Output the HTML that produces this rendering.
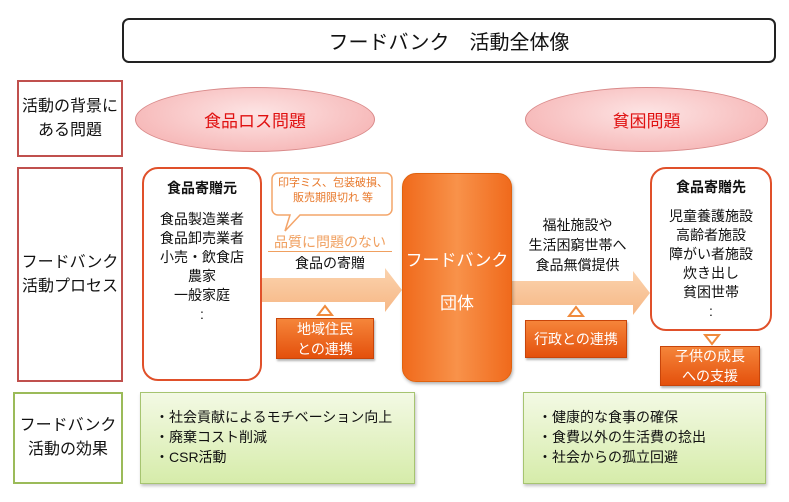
<!DOCTYPE html>
<html><head><meta charset="utf-8"><style>
body{margin:0;width:789px;height:502px;background:#fff;position:relative;overflow:hidden;font-family:"Liberation Sans","Noto Sans CJK JP",sans-serif;color:#111}
.a{position:absolute;box-sizing:border-box}
.c{display:flex;align-items:center;justify-content:center;text-align:center}
.lab{border:2px solid #c0504d;font-size:16px;line-height:24px;background:#fff}
.ell{border-radius:50%;background:radial-gradient(ellipse at 50% 40%,#fde4e4,#f6b6b6 80%,#f0a0a0);border:1px solid #d98a8a;color:#e01010;font-size:17px}
.ob{background:linear-gradient(#f5853a,#e4500c);color:#fff;font-size:14px;line-height:20px;border:1px solid #c8450a;box-shadow:1px 2px 2px rgba(0,0,0,.3)}
.gb{background:linear-gradient(#f3f9e4,#d6ecaa);border:1px solid #a6c470;box-shadow:1px 2px 3px rgba(0,0,0,.25);font-size:14px;line-height:20px;padding:14px 0 0 14px}
</style></head><body>
<div class="a c" style="left:122px;top:18px;width:654px;height:45px;border:2px solid #222;border-radius:7px;font-size:20px">フードバンク　活動全体像</div>

<div class="a c lab" style="left:17px;top:80px;width:106px;height:77px">活動の背景に<br>ある問題</div>
<div class="a c lab" style="left:17px;top:167px;width:106px;height:215px">フードバンク<br>活動プロセス</div>
<div class="a c lab" style="left:13px;top:392px;width:110px;height:92px;border-color:#9bbb59">フードバンク<br>活動の効果</div>

<div class="a c ell" style="left:135px;top:87px;width:240px;height:65px">食品ロス問題</div>
<div class="a c ell" style="left:525px;top:87px;width:243px;height:65px">貧困問題</div>

<!-- arrows -->
<svg class="a" style="left:0;top:0" width="789" height="502">
<defs><linearGradient id="ag" x1="0" y1="0" x2="0" y2="1"><stop offset="0" stop-color="#fbd3ae"/><stop offset="1" stop-color="#f6b785"/></linearGradient></defs>
<polygon points="262,278 385,278 385,268 402,290 385,312 385,302 262,302" fill="url(#ag)"/>
<polygon points="512,281 633,281 633,271 650,293 633,315 633,305 512,305" fill="url(#ag)"/>
<polygon points="325,306 318,315 332,315" fill="#fff" stroke="#f08a3c" stroke-width="2"/>
<polygon points="576,307 569,316 583,316" fill="#fff" stroke="#f08a3c" stroke-width="2"/>
<polygon points="705,335 719,335 712,344" fill="#fff" stroke="#f08a3c" stroke-width="2"/>
<path d="M280,173 H386 a6,6 0 0 1 6,6 V209 a6,6 0 0 1 -6,6 H300 L285,231 L290,215 H278 a6,6 0 0 1 -6,-6 V179 a6,6 0 0 1 6,-6Z" fill="#fff" stroke="#f4a56a" stroke-width="1.5"/>
</svg>
<div class="a" style="left:272px;top:176px;width:122px;text-align:center;font-size:11px;line-height:15px;color:#e8782a">印字ミス、包装破損、<br>販売期限切れ 等</div>
<div class="a" style="left:268px;top:233px;width:124px;text-align:center;font-size:14px;color:#f0a060;border-bottom:1px solid #f0a060;line-height:18px">品質に問題のない</div>
<div class="a" style="left:268px;top:254px;width:124px;text-align:center;font-size:14px;line-height:18px">食品の寄贈</div>

<div class="a" style="left:142px;top:167px;width:120px;height:214px;border:2.5px solid #e0502a;border-radius:16px;background:#fff;text-align:center;font-size:14px;line-height:19px;padding-top:10px">
<b>食品寄贈元</b><br><div style="height:12px"></div>食品製造業者<br>食品卸売業者<br>小売・飲食店<br>農家<br>一般家庭<br>:</div>

<div class="a ob c" style="left:276px;top:318px;width:98px;height:41px">地域住民<br>との連携</div>

<div class="a" style="left:402px;top:173px;width:110px;height:209px;border-radius:14px;background:linear-gradient(90deg,#f06a1c,#f8924a 50%,#f06a1c);border:1px solid #e0620e;color:#fff;text-align:center;font-size:17px;box-shadow:1px 2px 3px rgba(0,0,0,.3)">
<div style="position:absolute;top:72px;width:100%">フードバンク</div><div style="position:absolute;top:115px;width:100%">団体</div></div>

<div class="a" style="left:515px;top:215px;width:125px;text-align:center;font-size:14px;line-height:20px">福祉施設や<br>生活困窮世帯へ<br>食品無償提供</div>
<div class="a ob c" style="left:525px;top:320px;width:102px;height:38px">行政との連携</div>

<div class="a" style="left:650px;top:167px;width:122px;height:164px;border:2.5px solid #e0502a;border-radius:16px;background:#fff;text-align:center;font-size:14px;line-height:19px;padding-top:9px">
<b>食品寄贈先</b><br><div style="height:10px"></div>児童養護施設<br>高齢者施設<br>障がい者施設<br>炊き出し<br>貧困世帯<br>:</div>
<div class="a ob c" style="left:660px;top:346px;width:100px;height:40px">子供の成長<br>への支援</div>

<div class="a gb" style="left:140px;top:392px;width:275px;height:92px">・社会貢献によるモチベーション向上<br>・廃棄コスト削減<br>・CSR活動</div>
<div class="a gb" style="left:523px;top:392px;width:243px;height:92px">・健康的な食事の確保<br>・食費以外の生活費の捻出<br>・社会からの孤立回避</div>
</body></html>
